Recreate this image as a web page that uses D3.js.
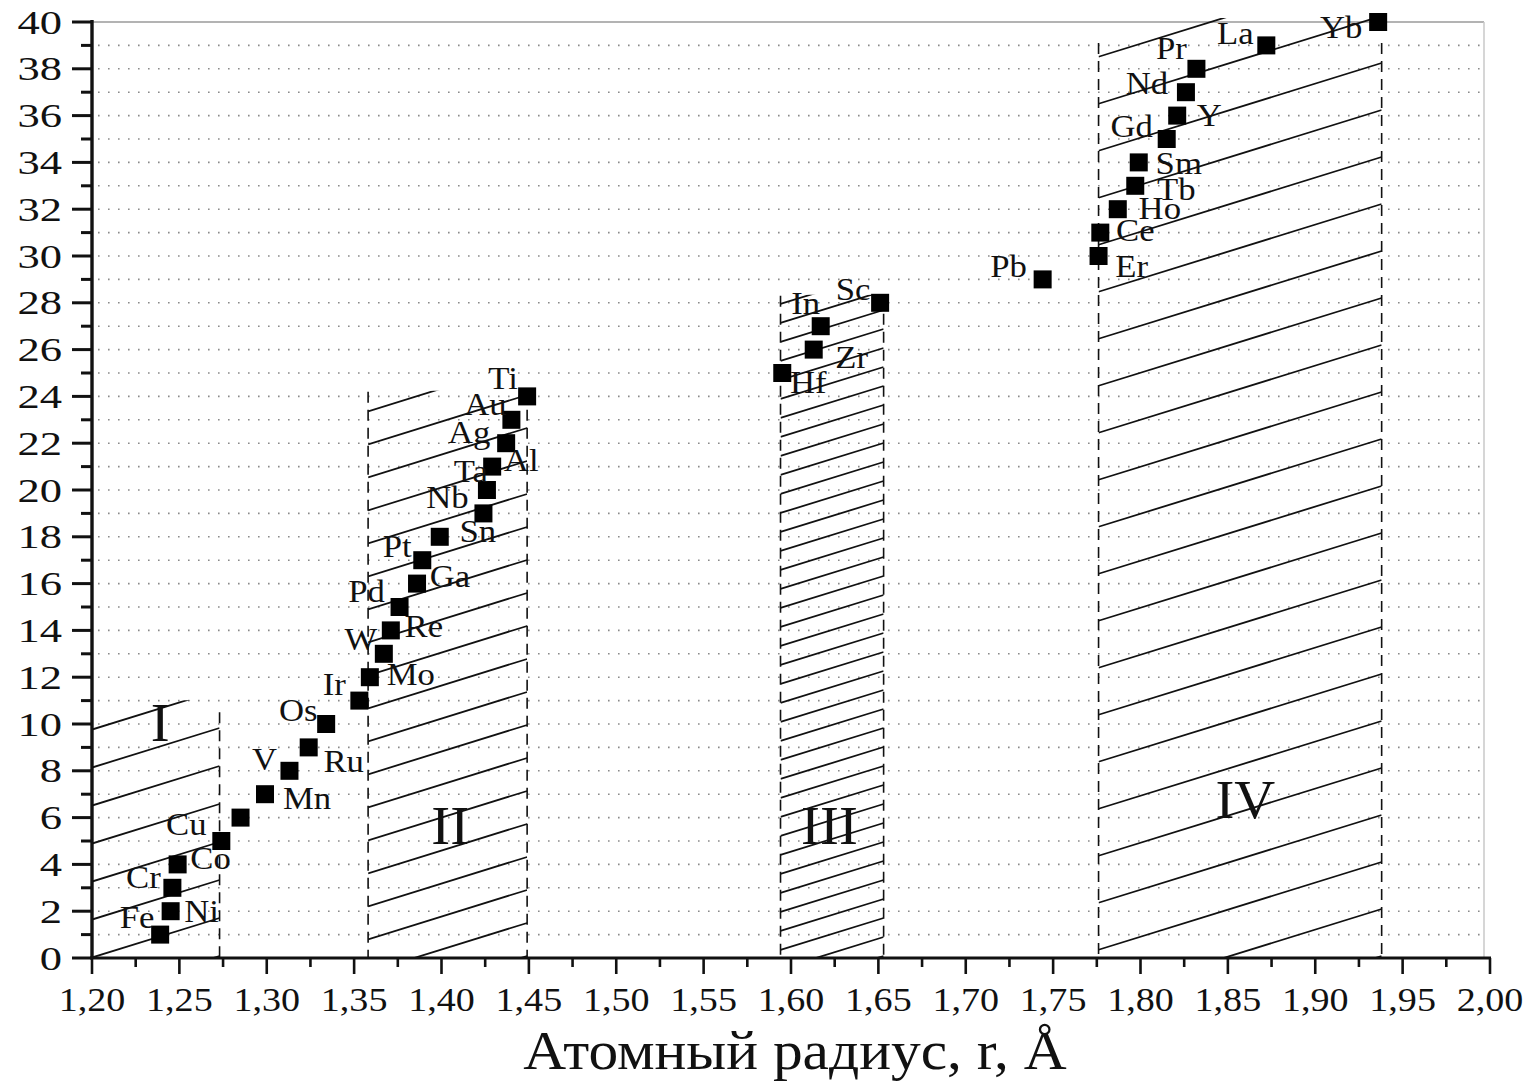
<!DOCTYPE html>
<html>
<head>
<meta charset="utf-8">
<script src="https://cdn.jsdelivr.net/npm/d3@7"></script>
<style>
  html, body { margin: 0; padding: 0; background: #fff; }
  svg { display: block; }
  text { font-family: "Liberation Serif", "DejaVu Serif", serif; fill: #111; }
</style>
</head>
<body>
<svg id="chart" width="1532" height="1081"></svg>
<script>
// Elements ranked by atomic radius (Å)
const elements = ["Fe","Ni","Cr","Co","Cu","","Mn","V","Ru","Os","Ir","Mo","W","Re","Pd","Ga","Pt","Sn","Nb","Ta","Al","Ag","Au","Ti",
                  "Hf","Zr","In","Sc","Pb","Er","Ce","Ho","Tb","Sm","Gd","Y","Nd","Pr","La","Yb"];
const radius = [1.239,1.245,1.246,1.249,1.274,1.285,1.299,1.313,1.324,1.334,1.353,1.359,1.367,1.371,1.376,1.386,1.389,1.399,1.424,1.426,1.429,1.437,1.440,1.449,
                1.595,1.613,1.617,1.651,1.744,1.776,1.777,1.787,1.797,1.799,1.815,1.821,1.826,1.832,1.872,1.936];
const rank = d3.range(1, 41);

// Tick values and labels
const xTickValues = [1.20,1.25,1.30,1.35,1.40,1.45,1.50,1.55,1.60,1.65,1.70,1.75,1.80,1.85,1.90,1.95,2.00];
const xTickLabels = ["1,20","1,25","1,30","1,35","1,40","1,45","1,50","1,55","1,60","1,65","1,70","1,75","1,80","1,85","1,90","1,95","2,00"];
const yTickValues = [0,2,4,6,8,10,12,14,16,18,20,22,24,26,28,30,32,34,36,38,40];

// Zones of the diagram (radius range and upper rank)
const zoneNames = ["I","II","III","IV"];
const zoneX0    = [1.200, 1.358, 1.594, 1.776];
const zoneX1    = [1.273, 1.449, 1.653, 1.938];
const zoneTop   = [10.5, 24.2, 28.3, 39.1];

// Label placement (offset of label centre from its marker, px)
const labelDx = [-23,31,-29,33,-35,0,42,-25,35,-28,-25,41,-23,33,-33,33,-25,38,-36,-16,29,-37,-26,-24,
                 26,38,-15,-27,-34,33,35,42,41,40,-35,32,-39,-25,-31,-37];
const labelDy = [-17,0,-11,-6,-17,0,4,-12,14,-14,-16,-3,-15,-4,-16,-7,-14,-6,-16,-19,-6,-11,-16,-18,
                 9,8,-23,-14,-13,10,-2,-1,3,1,-13,0,-9,-21,-12,5];

// Layout
const mLeft = 92, mRight = 1490, mTop = 22, mBottom = 958;
const hatchSlope = 0.31;
const hatchStep = [38, 33, 19, 47];
const zoneLabelPos = [[1.239, 10.1], [1.405, 5.7], [1.622, 5.7], [1.860, 6.8]];

const svg = d3.select("#chart");
const x = d3.scaleLinear().domain([1.20, 2.00]).range([mLeft, mRight]);
const y = d3.scaleLinear().domain([0, 40]).range([mBottom, mTop]);

// Serif text, widened horizontally like the typeface of the figure
function stretchedText(g, px, py, str, size, stretch, anchor) {
  return g.append("text")
    .attr("transform", `translate(${px},${py}) scale(${stretch},1)`)
    .attr("text-anchor", anchor || "middle")
    .attr("dy", "0.35em")
    .style("font-size", size + "px")
    .text(str);
}

// Dotted grid at every integer rank
const grid = svg.append("g");
grid.selectAll("line").data(d3.range(1, 40)).join("line")
  .attr("x1", mLeft + 6).attr("x2", mRight - 8)
  .attr("y1", d => y(d)).attr("y2", d => y(d))
  .attr("stroke", "#8a8a8a").attr("stroke-width", 1.6)
  .attr("stroke-dasharray", "1.6,8.4");

// Frame (top and right)
svg.append("line").attr("x1", mLeft).attr("x2", mRight - 6).attr("y1", y(40)).attr("y2", y(40))
  .attr("stroke", "#9a9a9a").attr("stroke-width", 1.5);
svg.append("line").attr("x1", mRight - 6).attr("x2", mRight - 6).attr("y1", y(40)).attr("y2", mBottom)
  .attr("stroke", "#c8c8c8").attr("stroke-width", 1.5);

// Hatched zones
const defs = svg.append("defs");
const zones = svg.append("g");
zoneNames.forEach((name, i) => {
  const X0 = x(zoneX0[i]), X1 = x(zoneX1[i]);
  const Yt = y(zoneTop[i]) - (i === 0 ? 12 : i === 3 ? 25 : 1), Yb = mBottom;
  const w = X1 - X0;
  defs.append("clipPath").attr("id", "clip" + i)
    .append("rect").attr("x", X0).attr("y", Yt).attr("width", w).attr("height", Yb - Yt);
  const starts = d3.range(Yb + hatchSlope * w - 2, Yt, -hatchStep[i]);
  zones.append("g").attr("clip-path", `url(#clip${i})`)
    .selectAll("line").data(starts).join("line")
    .attr("x1", X0).attr("y1", d => d)
    .attr("x2", X1).attr("y2", d => d - hatchSlope * w)
    .attr("stroke", "#111").attr("stroke-width", 1.8);
  const borders = i === 0 ? [X1] : [X0, X1];
  zones.append("g").selectAll("line").data(borders).join("line")
    .attr("x1", d => d).attr("x2", d => d)
    .attr("y1", y(zoneTop[i])).attr("y2", mBottom)
    .attr("stroke", "#111").attr("stroke-width", 1.6)
    .attr("stroke-dasharray", "11,7");
  stretchedText(zones, x(zoneLabelPos[i][0]), y(zoneLabelPos[i][1]), name, 54, 1.05);
});

// Axes
const xAxis = svg.append("g").attr("transform", `translate(0,${mBottom})`);
xAxis.append("line").attr("x1", mLeft - 2).attr("x2", mRight + 1).attr("stroke", "#111").attr("stroke-width", 3);
xAxis.append("g").selectAll("line").data(xTickValues).join("line")
  .attr("x1", d => x(d)).attr("x2", d => x(d)).attr("y1", 0).attr("y2", 16)
  .attr("stroke", "#111").attr("stroke-width", 2.6);
xAxis.append("g").selectAll("line").data(xTickValues.slice(0, -1).map(v => v + 0.025)).join("line")
  .attr("x1", d => x(d)).attr("x2", d => x(d)).attr("y1", 0).attr("y2", 9)
  .attr("stroke", "#111").attr("stroke-width", 2.6);
xTickValues.forEach((v, i) => stretchedText(xAxis, x(v), 41, xTickLabels[i], 34, 1.12));

const yAxis = svg.append("g").attr("transform", `translate(${mLeft},0)`);
yAxis.append("line").attr("y1", mTop - 2).attr("y2", mBottom + 1).attr("stroke", "#111").attr("stroke-width", 3.4);
yAxis.append("g").selectAll("line").data(yTickValues).join("line")
  .attr("y1", d => y(d)).attr("y2", d => y(d)).attr("x1", 0).attr("x2", -20)
  .attr("stroke", "#111").attr("stroke-width", 3);
yAxis.append("g").selectAll("line").data(yTickValues.slice(0, -1).map(v => v + 1)).join("line")
  .attr("y1", d => y(d)).attr("y2", d => y(d)).attr("x1", 0).attr("x2", -11)
  .attr("stroke", "#111").attr("stroke-width", 3);
yTickValues.forEach(v => stretchedText(yAxis, -30, y(v), String(v), 33, 1.35, "end"));

// Axis title
stretchedText(svg, 795, 1050, "Атомный радиус, r, Å", 54, 1.1);

// Markers and element labels
const pts = svg.append("g");
const size = 18;
pts.selectAll("rect").data(rank).join("rect")
  .attr("x", (d, i) => x(radius[i]) - size / 2)
  .attr("y", d => y(d) - size / 2)
  .attr("width", size).attr("height", size)
  .attr("fill", "#000");
rank.forEach((d, i) => {
  if (!elements[i]) return;
  stretchedText(pts, x(radius[i]) + labelDx[i], y(d) + labelDy[i], elements[i], 31, 1.12);
});
</script>
</body>
</html>
